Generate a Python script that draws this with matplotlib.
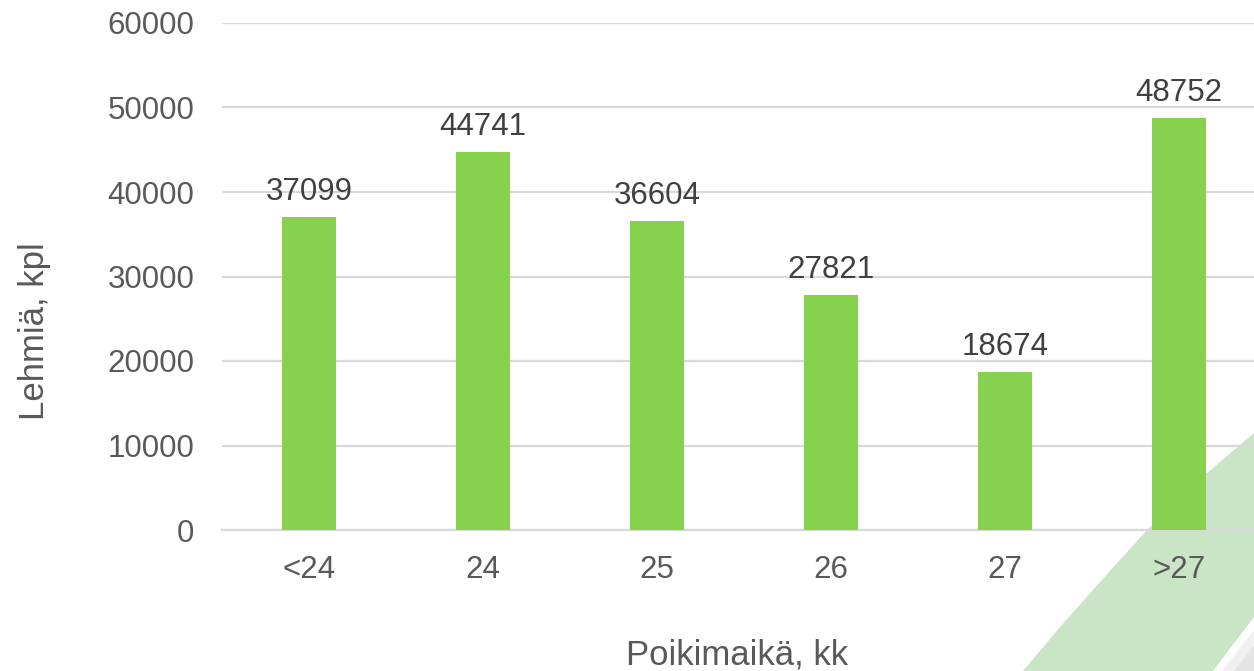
import matplotlib
matplotlib.use("Agg")
import matplotlib.pyplot as plt
from matplotlib.patches import Polygon

plt.rcParams['font.family'] = ['Liberation Sans', 'DejaVu Sans']

categories = ['<24', '24', '25', '26', '27', '>27']
values = [37099, 44741, 36604, 27821, 18674, 48752]
yticks = [0, 10000, 20000, 30000, 40000, 50000, 60000]

W, H = 1254, 671
fig = plt.figure(figsize=(W / 100, H / 100), dpi=100)
fig.patch.set_facecolor('white')

# background decoration (swoosh in bottom-right corner)
bg = fig.add_axes([0, 0, 1, 1], zorder=0)
bg.set_xlim(0, W)
bg.set_ylim(H, 0)
bg.axis('off')
green = Polygon([(1023, 671), (1060, 627), (1100, 582), (1147, 530), (1200, 479),
                 (1254, 433), (1254, 617), (1213, 671)],
                closed=True, facecolor='#c9e5c6', edgecolor='none')
bg.add_patch(green)
grey1 = Polygon([(1222, 671), (1254, 630), (1254, 671)], closed=True,
                facecolor='#f0f0f0', edgecolor='none')
grey2 = Polygon([(1234, 671), (1254, 646), (1254, 671)], closed=True,
                facecolor='#e4e4e4', edgecolor='none')
bg.add_patch(grey1)
bg.add_patch(grey2)

left = 222 / W
bottom = 1 - 530 / H
width = 6 * 174 / W
height = (530 - 23) / H
ax = fig.add_axes([left, bottom, width, height], zorder=1)
ax.patch.set_alpha(0)

x = list(range(len(categories)))
bars = ax.bar(x, values, width=0.31, color='#86d24f', zorder=3)
for xi, v in zip(x, values):
    ax.annotate(f'{v}', (xi, v), xytext=(0, 7), textcoords='offset points',
                ha='center', va='bottom', fontsize=22.5, color='#404040')

ax.set_xlim(-0.5, 5.5)
ax.set_ylim(0, 60000)
ax.set_yticks(yticks)
ax.set_yticklabels([str(t) for t in yticks])
ax.set_xticks(x)
ax.set_xticklabels(categories)
ax.grid(axis='y', color='#d9d9d9', linewidth=1.6, zorder=0)
ax.set_axisbelow(True)
for s in ['top', 'right', 'left']:
    ax.spines[s].set_visible(False)
ax.spines['bottom'].set_color('#d9d9d9')
ax.spines['bottom'].set_linewidth(1.6)
ax.tick_params(axis='both', length=0, labelsize=22.5, labelcolor='#595959')
ax.tick_params(axis='y', pad=20)
ax.tick_params(axis='x', pad=18)

fig.text(35 / W, 1 - 331 / H, 'Lehmiä, kpl', rotation=90, ha='center', va='center',
         fontsize=25, color='#595959')
fig.text(737 / W, 1 - 655 / H, 'Poikimaikä, kk', ha='center', va='center',
         fontsize=25, color='#595959')

fig.savefig('out.png', dpi=100)
